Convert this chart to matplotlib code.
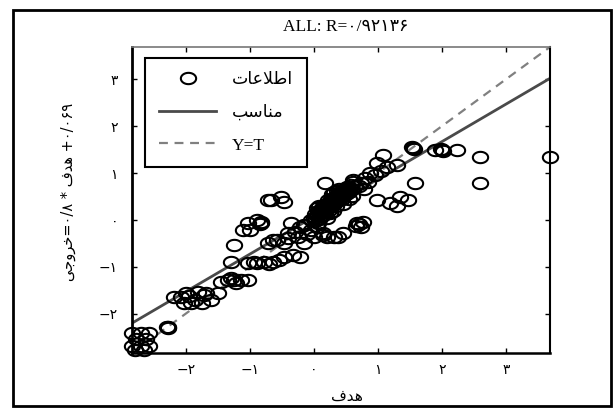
import numpy as np
import matplotlib
matplotlib.use('Agg')
import matplotlib.pyplot as plt
from matplotlib.path import Path
from matplotlib.patches import Rectangle
from matplotlib.lines import Line2D

# ---------------- data ----------------
target = [
    -2.84, -2.70, -2.57, -2.84, -2.70, -2.57, -2.78, -2.62, -2.80, -2.65,
    -2.28, -2.27, -2.29,
    -2.18, -2.08, -2.03, -1.92, -1.81, -1.72, -1.61, -1.50, -2.00, -1.85, -1.95, -1.68, -1.75,
    -1.45, -1.34, -1.25, -1.14, -1.03, -1.22, -1.30,
    -1.25, -1.30,
    -1.03, -0.94, -0.88, -0.78, -0.63, -0.47, -0.32, -0.21, -0.55, -0.70,
    -1.10, -0.99, -1.03, -0.83, -0.82, -0.84, -0.89,
    -0.72, -0.57, -0.41, -0.25, -0.16, -0.63, -0.47, -0.41, -0.21, -0.05, 0.06, 0.15, 0.00,
    0.15, 0.31, 0.46, 0.21, 0.38, -0.36, -0.30, -0.10, -0.15, 0.05,
    0.68, 0.70, 0.77, 0.73, 0.66,
    -0.72, -0.67, -0.52, -0.47,
    -0.05, 0.00, 0.02, 0.05, 0.08, 0.10, 0.12, 0.15, 0.15, 0.18, 0.20, 0.22, 0.25, 0.25,
    0.28, 0.30, 0.30, 0.33, 0.35, 0.35, 0.38, 0.40, 0.42, 0.45, 0.45, 0.48, 0.50, 0.52,
    0.55, 0.58, 0.60, 0.62, 0.65, 0.08, 0.05, 0.28, 0.40, 0.20, 0.12, 0.32, 0.60, 0.55,
    0.02, 0.06, 0.10, 0.14, 0.17, 0.21, 0.24, 0.27, 0.31, 0.34, 0.37, 0.41, 0.44, 0.47,
    0.50, 0.53, 0.57, 0.10, 0.16, 0.22, 0.30, 0.36, 0.43, 0.26, 0.33, 0.19, 0.39, 0.46,
    0.18, 0.62, 0.73, 0.88, 0.80, 0.70, 0.78, 0.85,
    1.08, 0.99, 1.15, 1.30, 1.05, 0.95,
    1.55, 1.57, 1.53, 2.00, 1.98, 2.02, 2.24, 1.90,
    2.60, 2.60, 3.69, 1.58,
    0.99, 1.19, 1.35, 1.47, 1.30,
]
output = [
    -2.42, -2.42, -2.42, -2.68, -2.68, -2.68, -2.55, -2.55, -2.78, -2.78,
    -2.29, -2.31, -2.28,
    -1.65, -1.65, -1.78, -1.78, -1.54, -1.61, -1.71, -1.56, -1.56, -1.70, -1.62, -1.55, -1.78,
    -1.33, -1.28, -1.28, -1.28, -1.28, -1.35, -1.25,
    -0.54, -0.90,
    -0.92, -0.90, -0.92, -0.90, -0.90, -0.79, -0.75, -0.79, -0.85, -0.95,
    -0.21, -0.21, -0.06, -0.06, -0.04, -0.08, 0.00,
    -0.49, -0.43, -0.39, -0.36, -0.49, -0.43, -0.49, -0.28, -0.15, -0.21, -0.06, -0.28, -0.36,
    -0.32, -0.36, -0.28, -0.36, -0.36, -0.06, -0.25, -0.30, -0.10, -0.15,
    -0.06, -0.08, -0.04, -0.15, -0.12,
    0.43, 0.43, 0.49, 0.39,
    0.00, 0.05, -0.02, 0.10, 0.02, 0.15, 0.22, 0.10, 0.30, 0.20, 0.35, 0.25, 0.40, 0.15,
    0.30, 0.45, 0.20, 0.38, 0.50, 0.30, 0.55, 0.42, 0.60, 0.50, 0.35, 0.65, 0.55, 0.70,
    0.60, 0.75, 0.65, 0.80, 0.72, 0.30, 0.25, 0.55, 0.65, 0.05, 0.08, 0.60, 0.50, 0.45,
    0.12, 0.18, 0.05, 0.26, 0.12, 0.32, 0.22, 0.45, 0.34, 0.42, 0.62, 0.52, 0.45, 0.58,
    0.66, 0.62, 0.68, 0.20, 0.26, 0.42, 0.38, 0.44, 0.56, 0.34, 0.48, 0.28, 0.48, 0.62,
    0.79, 0.86, 0.79, 1.01, 0.90, 0.72, 0.65, 0.80,
    1.39, 1.22, 1.13, 1.18, 1.05, 0.95,
    1.54, 1.52, 1.55, 1.50, 1.52, 1.48, 1.50, 1.50,
    1.35, 0.79, 1.35, 0.79,
    0.43, 0.36, 0.49, 0.43, 0.30,
]
fit_slope = 0.8
fit_intercept = 0.069
tick_values = [-2, -1, 0, 1, 2, 3]
tick_labels = ['\u2212\u06F2', '\u2212\u06F1', '\u06F0', '\u06F1', '\u06F2', '\u06F3']
title_text = 'ALL: R=\u06F0/\u06F9\u06F2\u06F1\u06F3\u06F6'
# Persian words in shaped (visual order) form: هدف, اطلاعات, مناسب, خروجی
word_target = '\uFED1\uFEAA\uFEEB'
word_data = '\uFE95\uFE8E\uFECB\uFEFC\uFEC3\uFE8D'
word_fit = '\uFE90\uFEB3\uFE8E\uFEE8\uFEE3'
word_output = '\uFEF0\uFE9F\uFEED\uFEAE\uFEA7'
ylabel_text = word_output + '=\u06F0/\u06F8 * ' + word_target + ' +\u06F0/\u06F0\u06F6\u06F9'
legend_labels = [word_data, word_fit, 'Y=T']

# ---------------- figure ----------------
W, H = 613, 416
fig = plt.figure(figsize=(W / 100, H / 100), dpi=100)
fig.patch.set_facecolor('white')
fig.add_artist(Rectangle((13 / W, 1 - 406 / H), (611 - 13) / W, (406 - 10) / H,
                         transform=fig.transFigure, fill=False, lw=2, ec='black'))

ax = fig.add_axes([132 / W, 1 - 353 / H, (550 - 132) / W, (353 - 47) / H])

theta = np.linspace(0, 2 * np.pi, 64)
ell = Path(np.column_stack([1.35 * np.cos(theta), np.sin(theta)]), closed=True)

lo = min(min(target), min(output))
hi = max(max(target), max(output))
xs = np.array([lo, hi])

ax.plot(target, output, ls='none', marker=ell, ms=11, mfc='none', mec='black',
        mew=1.5, clip_on=False, zorder=3)
ax.plot(xs, fit_slope * xs + fit_intercept, color='#4a4a4a', lw=2.0, zorder=2)
ax.plot(xs, xs, color='#808080', lw=1.6, dashes=(4, 3), zorder=2)

ax.set_xlim(lo, hi)
ax.set_ylim(lo, hi)
ax.set_xticks(tick_values)
ax.set_yticks(tick_values)
ax.set_xticklabels(tick_labels, fontfamily='DejaVu Sans', fontsize=10)
ax.set_yticklabels(tick_labels, fontfamily='DejaVu Sans', fontsize=10)
ax.tick_params(axis='both', direction='in', length=3.5, width=1, top=True, right=True)
ax.tick_params(axis='x', pad=7)
ax.tick_params(axis='y', pad=10)

ax.spines['left'].set_linewidth(2)
ax.spines['bottom'].set_linewidth(1.8)
ax.spines['right'].set_linewidth(1.5)
ax.spines['top'].set_linewidth(1.2)
ax.spines['top'].set_color('#777777')

handles = [
    Line2D([], [], ls='none', marker=ell, ms=11, mfc='none', mec='black', mew=1.5),
    Line2D([], [], color='#4a4a4a', lw=2.0),
    Line2D([], [], color='#808080', lw=1.6, dashes=(4, 3)),
]
leg = ax.legend(handles, legend_labels, loc='upper left',
                bbox_to_anchor=(145 / W, 1 - 58 / H), bbox_transform=fig.transFigure,
                borderaxespad=0, fancybox=False, framealpha=1, edgecolor='black',
                prop={'family': ['Liberation Serif', 'DejaVu Sans'], 'size': 12.5},
                handlelength=3.3, handletextpad=0.9, labelspacing=0.95, borderpad=0.8)
leg.get_frame().set_linewidth(1.5)

fig.text(346 / W, 1 - 27 / H, title_text, ha='center', va='center', fontsize=12.5,
         family=['Liberation Serif', 'DejaVu Sans'])
fig.text(68 / W, 1 - 192 / H, ylabel_text, ha='center', va='center', rotation=90,
         fontsize=10.5, family=['DejaVu Sans'])
fig.text(347 / W, 1 - 396 / H, word_target, ha='center', va='center', fontsize=11,
         family=['DejaVu Sans'])

fig.savefig('out.png', dpi=100)
